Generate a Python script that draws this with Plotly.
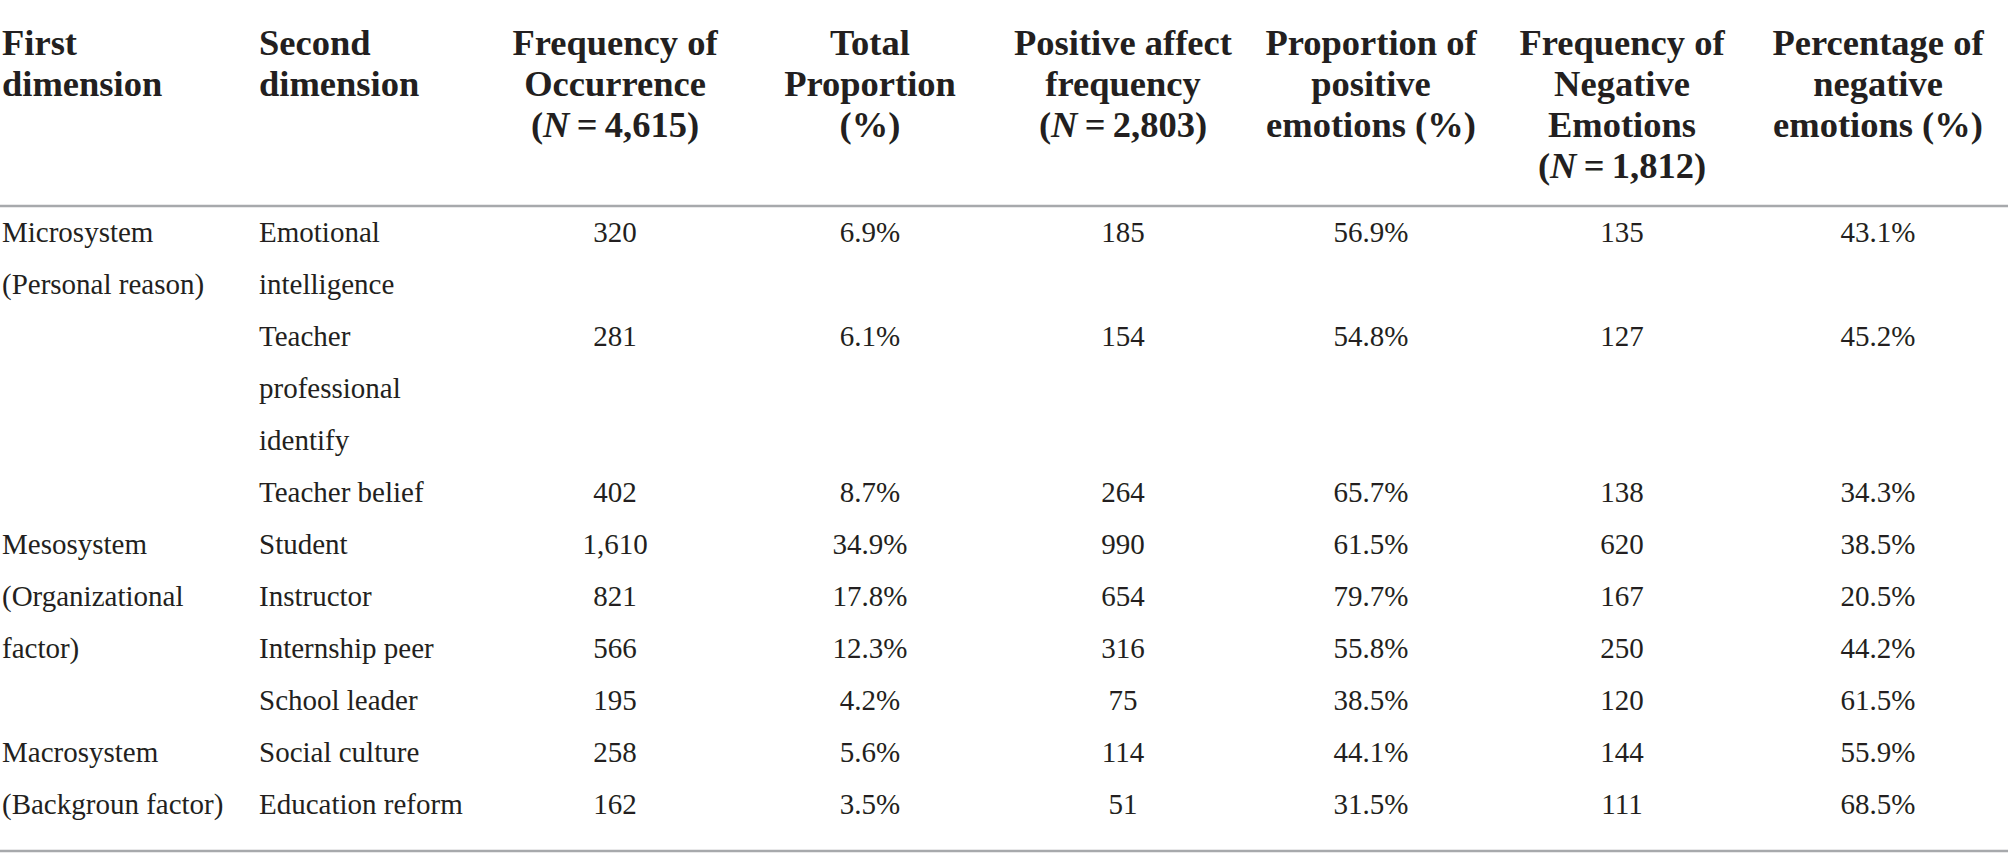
import plotly.graph_objects as go

# ---------------- data ----------------
headers = [
    "First<br>dimension",
    "Second<br>dimension",
    "Frequency of<br>Occurrence<br>(<i>N</i>\u2009=\u20094,615)",
    "Total<br>Proportion<br>(%)",
    "Positive affect<br>frequency<br>(<i>N</i>\u2009=\u20092,803)",
    "Proportion of<br>positive<br>emotions (%)",
    "Frequency of<br>Negative<br>Emotions<br>(<i>N</i>\u2009=\u20091,812)",
    "Percentage of<br>negative<br>emotions (%)",
]
first_dim = [
    "Microsystem<br>(Personal reason)", "", "",
    "Mesosystem<br>(Organizational<br>factor)", "", "", "",
    "Macrosystem<br>(Backgroun factor)", "",
]
second_dim = [
    "Emotional<br>intelligence",
    "Teacher<br>professional<br>identify",
    "Teacher belief",
    "Student",
    "Instructor",
    "Internship peer",
    "School leader",
    "Social culture",
    "Education reform",
]
freq_occ = ["320", "281", "402", "1,610", "821", "566", "195", "258", "162"]
total_prop = ["6.9%", "6.1%", "8.7%", "34.9%", "17.8%", "12.3%", "4.2%", "5.6%", "3.5%"]
pos_freq = ["185", "154", "264", "990", "654", "316", "75", "114", "51"]
pos_prop = ["56.9%", "54.8%", "65.7%", "61.5%", "79.7%", "55.8%", "38.5%", "44.1%", "31.5%"]
neg_freq = ["135", "127", "138", "620", "167", "250", "120", "144", "111"]
neg_prop = ["43.1%", "45.2%", "34.3%", "38.5%", "20.5%", "44.2%", "61.5%", "55.9%", "68.5%"]

# ---------------- layout constants ----------------
W, H = 2008, 865
col_x = [2, 259, 615, 870, 1123, 1371, 1622, 1878]
col_align = ["left", "left", "center", "center", "center", "center", "center", "center"]
header_y0, header_dy = 46, 41
body_y0, body_dy = 235, 52
top_rule, bottom_rule = 206, 851
FONT = "Liberation Serif, Times New Roman, serif"
HEAD_SIZE, BODY_SIZE = 36.5, 29
TXT = "#231f20"
RULE = "#a7a9ac"

columns = [first_dim, second_dim, freq_occ, total_prop, pos_freq, pos_prop, neg_freq, neg_prop]

fig = go.Figure()

def add_text(xs, ys, texts, align, size, bold=False):
    pos = "middle right" if align == "left" else "middle center"
    if bold:
        texts = ["<b>" + t + "</b>" for t in texts]
    fig.add_trace(go.Scatter(
        x=xs, y=ys, text=texts, mode="text", textposition=pos,
        textfont=dict(family=FONT, size=size, color=TXT),
        hoverinfo="skip", showlegend=False, cliponaxis=False,
    ))

# header
for ci, h in enumerate(headers):
    lines = h.split("<br>")
    add_text([col_x[ci]] * len(lines),
             [header_y0 + i * header_dy for i in range(len(lines))],
             lines, col_align[ci], HEAD_SIZE, bold=True)

# body: row start line = cumulative number of lines of the second-dimension cells
row_start = []
cur = 0
for r in range(len(second_dim)):
    row_start.append(cur)
    cur += len(second_dim[r].split("<br>"))

for ci, col in enumerate(columns):
    xs, ys, ts = [], [], []
    for r, cell in enumerate(col):
        if not cell:
            continue
        for li, line in enumerate(cell.split("<br>")):
            xs.append(col_x[ci])
            ys.append(body_y0 + (row_start[r] + li) * body_dy)
            ts.append(line)
    add_text(xs, ys, ts, col_align[ci], BODY_SIZE)

for yy in (top_rule, bottom_rule):
    fig.add_shape(type="line", x0=0, x1=W, y0=yy, y1=yy, xref="x", yref="y",
                  line=dict(color=RULE, width=2.5))

fig.update_layout(
    width=W, height=H,
    margin=dict(l=0, r=0, t=0, b=0),
    paper_bgcolor="white", plot_bgcolor="white",
    xaxis=dict(range=[0, W], visible=False, fixedrange=True),
    yaxis=dict(range=[H, 0], visible=False, fixedrange=True),
)

fig.write_html("out.html", config={"displayModeBar": False},
               post_script="document.body.style.margin='0px';")
